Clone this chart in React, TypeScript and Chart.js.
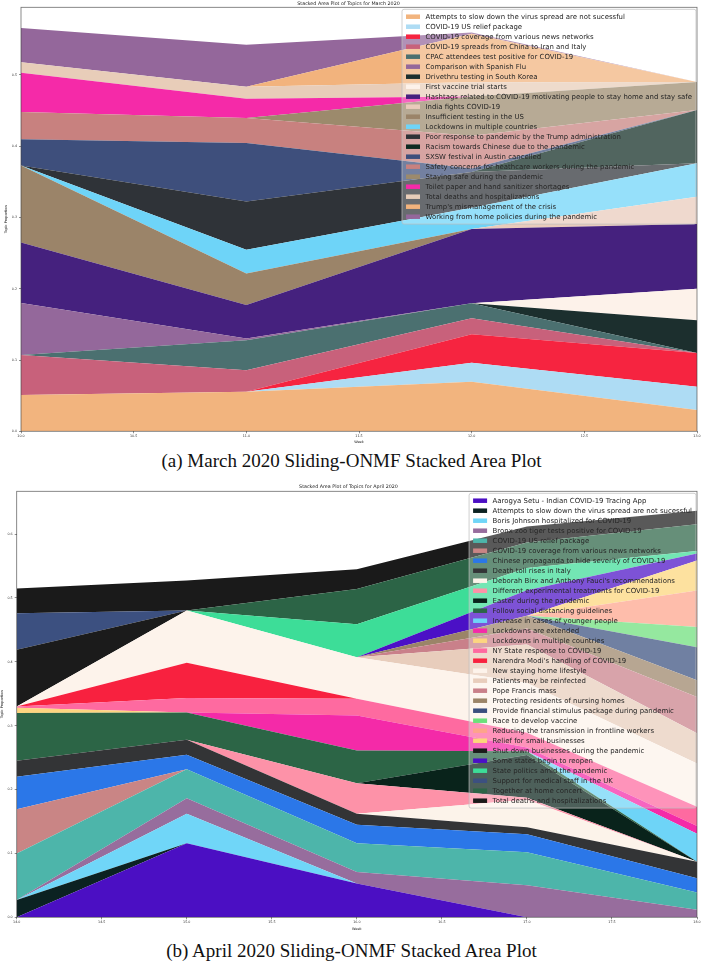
import React, { useEffect, useRef } from 'react';
import { Chart, registerables } from 'chart.js';

Chart.register(...registerables);

// ---------------- March 2020 ----------------
const marchWeeks = [10, 11, 12, 13];
const marchTopics = [
  'Attempts to slow down the virus spread are not sucessful',
  'COVID-19 US relief package',
  'COVID-19 coverage from various news networks',
  'COVID-19 spreads from China to Iran and Italy',
  'CPAC attendees test positive for COVID-19',
  'Comparison with Spanish Flu',
  'Drivethru testing in South Korea',
  'First vaccine trial starts',
  'Hashtags related to COVID-19 motivating people to stay home and stay safe',
  'India fights COVID-19',
  'Insufficient testing in the US',
  'Lockdowns in multiple countries',
  'Poor response to pandemic by the Trump administration',
  'Racism towards Chinese due to the pandemic',
  'SXSW festival in Austin cancelled',
  'Safety concerns for heathcare workers during the pandemic',
  'Staying safe during the pandemic',
  'Toilet paper and hand sanitizer shortages',
  'Total deaths and hospitalizations',
  "Trump's mismanagement of the crisis",
  'Working from home policies during the pandemic',
];
const marchColors = [
  '#f2b47e', '#aedcf4', '#f62440', '#c8617b', '#4b7070', '#94689b', '#1c2f2e',
  '#fdf2ea', '#45217e', '#e9cbbb', '#9b8469', '#6ed4f8', '#2f3338', '#0e2a22',
  '#3e4f7c', '#c8817f', '#9c8a6c', '#f52aa8', '#e8cdb9', '#f2b37d', '#94679b',
];
const marchWeek10 = [0.051, 0, 0, 0.056, 0, 0.073, 0, 0, 0.085, 0, 0.108, 0, 0, 0, 0.037, 0.038, 0, 0.055, 0.015, 0, 0.048];
const marchWeek11 = [0.0556, 0, 0, 0.030, 0.042, 0.0025, 0, 0, 0.047, 0, 0.0445, 0.033, 0.068, 0, 0.082, 0.035, 0, 0.027, 0.017, 0, 0.059];
const marchWeek12 = [0.0696, 0.0267, 0.040, 0.0225, 0.021, 0, 0, 0, 0.104, 0, 0, 0.030, 0.050, 0, 0.005, 0.046, 0.055, 0, 0.020, 0.068, 0.002];
const marchWeek13 = [0.030, 0.0326, 0.0474, 0, 0, 0, 0.046, 0.044, 0.091, 0.038, 0, 0.047, 0, 0.075, 0, 0, 0.039, 0, 0, 0, 0];
const marchTicksX = [10.0, 10.5, 11.0, 11.5, 12.0, 12.5, 13.0];

// ---------------- April 2020 ----------------
const aprilWeeks = [14, 15, 16, 17, 18];
const aprilTopics = [
  'Aarogya Setu - Indian COVID-19 Tracing App',
  'Attempts to slow down the virus spread are not sucessful',
  'Boris Johnson hospitalized for COVID-19',
  'Bronx zoo tiger tests positive for COVID-19',
  'COVID-19 US relief package',
  'COVID-19 coverage from various news networks',
  'Chinese propaganda to hide severity of COVID-19',
  'Death toll rises in Italy',
  "Deborah Birx and Anthony Fauci's recommendations",
  'Different experimental treatments for COVID-19',
  'Easter during the pandemic',
  'Follow social distancing guidelines',
  'Increase in cases of younger people',
  'Lockdowns are extended',
  'Lockdowns in multiple countries',
  'NY State response to COVID-19',
  "Narendra Modi's handling of COVID-19",
  'New staying home lifestyle',
  'Patients may be reinfected',
  'Pope Francis mass',
  'Protecting residents of nursing homes',
  'Provide financial stimulus package during pandemic',
  'Race to develop vaccine',
  'Reducing the transmission in frontline workers',
  'Relief for small businesses',
  'Shut down businesses during the pandemic',
  'Some states begin to reopen',
  'State politics amid the pandemic',
  'Support for medical staff in the UK',
  'Together at home concert',
  'Total deaths and hospitalizations',
];
const aprilColors = [
  '#4b0fc3', '#0b2222', '#70d6f8', '#976d9d', '#4db5aa', '#c98585', '#2b77e8',
  '#333436', '#fcf3ea', '#fd92a8', '#09231b', '#2c6546', '#6ed4f7', '#f42aa8',
  '#fdd580', '#fe6aa0', '#f8213f', '#fdf3eb', '#e8cdbc', '#c9808a', '#9b8468',
  '#3a4f7e', '#6ce07a', '#fea48b', '#fdd67b', '#1b1b1b', '#4b10c6', '#3ddd98',
  '#3c5080', '#2c6446', '#1a1a1a',
];
const aprilWeek14 = [0, 0.027, 0, 0, 0.073, 0.069, 0.051, 0.025, 0, 0, 0, 0.075, 0, 0, 0.008, 0.002, 0, 0, 0, 0, 0, 0, 0, 0, 0, 0.089, 0, 0, 0.057, 0, 0.039];
const aprilWeek15 = [0.116, 0, 0.046, 0.0245, 0.0455, 0, 0.0225, 0.0235, 0, 0, 0, 0.0425, 0, 0, 0, 0.023, 0.055, 0.082, 0, 0, 0, 0, 0, 0, 0, 0, 0, 0, 0, 0, 0.047];
const aprilWeek16 = [0.053, 0, 0, 0.018, 0.045, 0, 0.029, 0.017, 0, 0.048, 0, 0.051, 0, 0.055, 0, 0.026, 0, 0.065, 0, 0, 0, 0, 0, 0, 0, 0, 0, 0.052, 0, 0.055, 0.031];
const aprilWeek17 = [0, 0, 0, 0.05, 0.052, 0, 0.028, 0.011, 0.043, 0.003, 0.067, 0.006, 0, 0.006, 0, 0.023, 0, 0.078, 0.06, 0.025, 0.02, 0, 0, 0, 0, 0, 0.04, 0.035, 0, 0.04, 0.025];
const aprilWeek18 = [0, 0, 0, 0.012, 0.027, 0, 0.022, 0.026, 0, 0, 0, 0, 0.044, 0.012, 0, 0.030, 0, 0.068, 0.047, 0.057, 0.026, 0.052, 0.0315, 0.057, 0.047, 0, 0.011, 0.004, 0, 0.042, 0.021];
const aprilTicksX = [14.0, 14.5, 15.0, 15.5, 16.0, 16.5, 17.0, 17.5, 18.0];

const FONT = '"DejaVu Sans", sans-serif';

const frameLegendPlugin = {
  id: 'frameLegend',
  afterDatasetsDraw(chart: any, _args: any, opts: any) {
    const { ctx, chartArea: a } = chart;
    ctx.save();
    // axes frame (all four spines)
    ctx.strokeStyle = opts.frameColor;
    ctx.lineWidth = 0.8;
    ctx.strokeRect(a.left, a.top, a.right - a.left, a.bottom - a.top);

    // legend box inside the axes, upper right
    const ds = chart.data.datasets;
    ctx.font = `${opts.fontSize}px ${FONT}`;
    let maxW = 0;
    ds.forEach((d: any) => { maxW = Math.max(maxW, ctx.measureText(d.label).width); });
    const boxW = opts.padL + opts.swatchW + opts.gap + maxW + opts.padR;
    const boxH = ds.length * opts.rowH + opts.padT * 2;
    const x0 = a.right - opts.marginR - boxW;
    const y0 = a.top + opts.marginT;
    const r = 2;
    ctx.beginPath();
    ctx.moveTo(x0 + r, y0);
    ctx.lineTo(x0 + boxW - r, y0);
    ctx.quadraticCurveTo(x0 + boxW, y0, x0 + boxW, y0 + r);
    ctx.lineTo(x0 + boxW, y0 + boxH - r);
    ctx.quadraticCurveTo(x0 + boxW, y0 + boxH, x0 + boxW - r, y0 + boxH);
    ctx.lineTo(x0 + r, y0 + boxH);
    ctx.quadraticCurveTo(x0, y0 + boxH, x0, y0 + boxH - r);
    ctx.lineTo(x0, y0 + r);
    ctx.quadraticCurveTo(x0, y0, x0 + r, y0);
    ctx.closePath();
    ctx.fillStyle = opts.boxFill;
    ctx.fill();
    ctx.strokeStyle = opts.boxStroke;
    ctx.lineWidth = 0.8;
    ctx.stroke();

    ctx.textBaseline = 'middle';
    ctx.textAlign = 'left';
    ds.forEach((d: any, i: number) => {
      const cy = y0 + opts.padT + opts.rowH * (i + 0.5);
      ctx.fillStyle = d.backgroundColor;
      ctx.fillRect(x0 + opts.padL, cy - opts.swatchH / 2, opts.swatchW, opts.swatchH);
      ctx.fillStyle = opts.textColor;
      ctx.fillText(d.label, x0 + opts.padL + opts.swatchW + opts.gap, cy + 0.3);
    });
    ctx.restore();
  },
};

type ChartSpec = {
  title: string;
  weeks: number[];
  topics: string[];
  colors: string[];
  byWeek: number[][];
  ticksX: number[];
  yMax: number;
  yAxisWidth: number;
  xAxisHeight: number;
  titlePad: { top: number; bottom: number };
  yTitlePadTop: number;
  xTitlePadBottom: number;
};

function buildConfig(s: ChartSpec): any {
  const datasets = s.topics.map((label, i) => ({
    label,
    data: s.weeks.map((w, j) => ({ x: w, y: s.byWeek[j][i] })),
    backgroundColor: s.colors[i],
    borderColor: s.colors[i],
    borderWidth: 0,
    pointRadius: 0,
    tension: 0,
    fill: i === 0 ? 'origin' : '-1',
  }));
  return {
    type: 'line',
    data: { datasets },
    plugins: [frameLegendPlugin],
    options: {
      responsive: false,
      animation: false,
      events: [],
      layout: { padding: { left: 0, right: 6, top: 0, bottom: 0 } },
      plugins: {
        legend: { display: false },
        tooltip: { enabled: false },
        title: {
          display: true,
          text: s.title,
          color: '#222',
          font: { family: FONT, size: 4.8, weight: 'normal', lineHeight: 1.375 },
          padding: s.titlePad,
        },
        frameLegend: {
          frameColor: 'rgba(60,60,60,0.75)',
          fontSize: 6.95,
          rowH: 10,
          padT: 2.4,
          marginT: 2,
          marginR: 1,
          padL: 4,
          padR: 4,
          gap: 5.5,
          swatchW: 14,
          swatchH: 4.5,
          boxFill: 'rgba(255,255,255,0.28)',
          boxStroke: 'rgba(190,190,190,0.9)',
          textColor: '#262626',
        },
      },
      scales: {
        x: {
          type: 'linear',
          min: s.weeks[0],
          max: s.weeks[s.weeks.length - 1],
          afterFit: (scale: any) => { scale.height = s.xAxisHeight; },
          afterBuildTicks: (scale: any) => { scale.ticks = s.ticksX.map((v) => ({ value: v })); },
          ticks: {
            color: '#333',
            font: { family: FONT, size: 3.3 },
            padding: 1,
            maxRotation: 0,
            autoSkip: false,
            callback: (v: any) => Number(v).toFixed(1),
          },
          grid: { display: true, drawOnChartArea: false, drawTicks: true, tickLength: 2, color: '#444', lineWidth: 0.6 },
          border: { display: false },
          title: {
            display: true,
            text: 'Week',
            color: '#222',
            font: { family: FONT, size: 3.5 },
            padding: { top: 0, bottom: s.xTitlePadBottom },
          },
        },
        y: {
          type: 'linear',
          stacked: true,
          min: 0,
          max: s.yMax,
          afterFit: (scale: any) => { scale.width = s.yAxisWidth; },
          ticks: {
            stepSize: 0.1,
            includeBounds: false,
            color: '#333',
            font: { family: FONT, size: 3.3 },
            padding: 2,
            callback: (v: any) => Number(v).toFixed(1),
          },
          grid: { display: true, drawOnChartArea: false, drawTicks: true, tickLength: 2, color: '#444', lineWidth: 0.6 },
          border: { display: false },
          title: {
            display: true,
            text: 'Topic Proportion',
            color: '#222',
            font: { family: FONT, size: 3.5 },
            padding: { top: s.yTitlePadTop, bottom: 0 },
          },
        },
      },
    },
  };
}

const marchSpec: ChartSpec = {
  title: 'Stacked Area Plot of Topics for March 2020',
  weeks: marchWeeks,
  topics: marchTopics,
  colors: marchColors,
  byWeek: [marchWeek10, marchWeek11, marchWeek12, marchWeek13],
  ticksX: marchTicksX,
  yMax: 0.595,
  yAxisWidth: 21,
  xAxisHeight: 16.7,
  titlePad: { top: 0.4, bottom: 0.3 },
  yTitlePadTop: 3.7,
  xTitlePadBottom: 3.4,
};

const aprilSpec: ChartSpec = {
  title: 'Stacked Area Plot of Topics for April 2020',
  weeks: aprilWeeks,
  topics: aprilTopics,
  colors: aprilColors,
  byWeek: [aprilWeek14, aprilWeek15, aprilWeek16, aprilWeek17, aprilWeek18],
  ticksX: aprilTicksX,
  yMax: 0.667,
  yAxisWidth: 16.7,
  xAxisHeight: 16.7,
  titlePad: { top: 3.7, bottom: 1.0 },
  yTitlePadTop: 0.4,
  xTitlePadBottom: 2.9,
};

function StackChart({ spec, top, height }: { spec: ChartSpec; top: number; height: number }) {
  const ref = useRef<HTMLCanvasElement | null>(null);
  useEffect(() => {
    if (!ref.current) return;
    const chart = new Chart(ref.current, buildConfig(spec));
    return () => chart.destroy();
  }, [spec]);
  return (
    <canvas
      ref={ref}
      width={703}
      height={height}
      style={{ position: 'absolute', left: 0, top, width: 703, height, display: 'block' }}
    />
  );
}

const captionStyle: React.CSSProperties = {
  position: 'absolute',
  left: 0,
  width: 703,
  textAlign: 'center',
  fontFamily: '"Liberation Serif", "DejaVu Serif", serif',
  fontSize: 19,
  lineHeight: '22px',
  color: '#111',
  whiteSpace: 'nowrap',
};

export default function App() {
  return (
    <div style={{ position: 'absolute', left: 0, top: 0, width: 703, height: 964, background: '#fff', overflow: 'hidden' }}>
      <StackChart spec={marchSpec} top={0} height={448} />
      <div style={{ ...captionStyle, top: 450 }}>(a) March 2020 Sliding-ONMF Stacked Area Plot</div>
      <StackChart spec={aprilSpec} top={480} height={454} />
      <div style={{ ...captionStyle, top: 940 }}>(b) April 2020 Sliding-ONMF Stacked Area Plot</div>
    </div>
  );
}
